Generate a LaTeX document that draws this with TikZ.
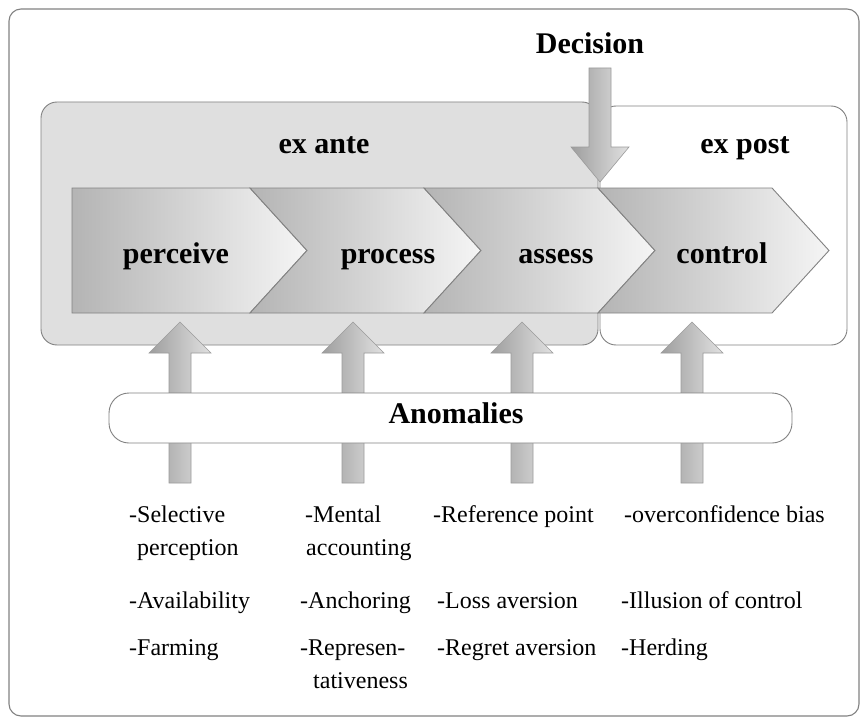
\documentclass[tikz,border=0pt]{standalone}
\usepackage{fontspec}
\setmainfont{Liberation Serif}
\definecolor{edge}{RGB}{130,130,130}
\definecolor{boxgray}{RGB}{223,223,223}
\definecolor{chevL}{RGB}{180,180,180}
\definecolor{chevR}{RGB}{245,245,245}
\definecolor{arrL}{RGB}{158,158,158}
\definecolor{arrR}{RGB}{225,225,225}
\tikzset{
  frame/.style={draw=edge, line width=1.1pt, rounded corners=12pt},
  phasebox/.style={draw=edge, line width=0.9pt, rounded corners=16pt},
  chevron/.style={draw=edge, line width=0.9pt, left color=chevL, right color=chevR},
  bigarrow/.style={draw=edge!80, line width=0.6pt, left color=arrL, right color=arrR},
  lbl/.style={anchor=base, inner sep=0pt, font=\bfseries\fontsize{30}{34}\selectfont},
  anomtext/.style={anchor=base west, inner sep=0pt, font=\fontsize{24}{30}\selectfont},
}
\begin{document}
\begin{tikzpicture}[x=1pt, y=-1pt]
\useasboundingbox (0,0) rectangle (868,725);
% outer frame
\draw[frame, fill=white] (9,9) rectangle (859,716);
% ex ante / ex post boxes
\draw[phasebox, fill=boxgray] (41,102) rectangle (598,345);
\draw[phasebox, fill=white] (600,106) rectangle (847,345);
% up arrows from anomalies
\foreach \x/\n in {180/a1, 353/a2, 522/a3, 692/a4}{
  \coordinate (\n) at (\x,322);
  \draw[bigarrow] ([xshift=-11pt,yshift=-161pt]\n) -- ([xshift=-11pt,yshift=-31pt]\n)
    -- ([xshift=-31pt,yshift=-31pt]\n) -- (\n) -- ([xshift=31pt,yshift=-31pt]\n)
    -- ([xshift=11pt,yshift=-31pt]\n) -- ([xshift=11pt,yshift=-161pt]\n) -- cycle;
}
% chevrons
\draw[chevron] (72,188) -- (250,188) -- (307,250.5) -- (250,313) -- (72,313) -- cycle;
\draw[chevron] (250,188) -- (424,188) -- (481,250.5) -- (424,313) -- (250,313) -- (307,250.5) -- cycle;
\draw[chevron] (424,188) -- (598,188) -- (655,250.5) -- (598,313) -- (424,313) -- (481,250.5) -- cycle;
\draw[chevron] (598,188) -- (772,188) -- (829,250.5) -- (772,313) -- (598,313) -- (655,250.5) -- cycle;
% decision arrow
\coordinate (dtip) at (600,182);
\draw[bigarrow] (589,68) -- (611,68) -- (611,147) -- (629,147) -- (dtip) -- (571,147) -- (589,147) -- cycle;
% anomalies bar
\node[draw=edge, line width=0.9pt, fill=white, rounded corners=20pt, minimum width=683pt, minimum height=50pt, inner sep=0pt] (anombar) at (450.5,418) {};
% labels
\node[lbl] (decision) at (590,54) {Decision};
\node[lbl] (exante) at (324,153) {ex ante};
\node[lbl] (expost) at (745,153) {ex post};
\node[lbl] (perceive) at (176,263) {perceive};
\node[lbl] (process) at (388,263) {process};
\node[lbl] (assess) at (556,263) {assess};
\node[lbl] (control) at (722,263) {control};
\node[lbl] (anomalies) at (456,423) {Anomalies};
% anomaly lists
\node[anomtext] (c1a) at (129,522) {-Selective};
\node[anomtext] (c1b) at (137,555) {perception};
\node[anomtext] (c1c) at (129,608) {-Availability};
\node[anomtext] (c1d) at (129,655) {-Farming};
\node[anomtext] (c2a) at (305,522) {-Mental};
\node[anomtext] (c2b) at (306,555) {accounting};
\node[anomtext] (c2c) at (300,608) {-Anchoring};
\node[anomtext] (c2d) at (300,655) {-Represen-};
\node[anomtext] (c2e) at (313,688) {tativeness};
\node[anomtext] (c3a) at (433,522) {-Reference point};
\node[anomtext] (c3b) at (437,608) {-Loss aversion};
\node[anomtext] (c3c) at (437,655) {-Regret aversion};
\node[anomtext] (c4a) at (624,522) {-overconfidence bias};
\node[anomtext] (c4b) at (621,608) {-Illusion of control};
\node[anomtext] (c4c) at (621,655) {-Herding};
\end{tikzpicture}
\end{document}
